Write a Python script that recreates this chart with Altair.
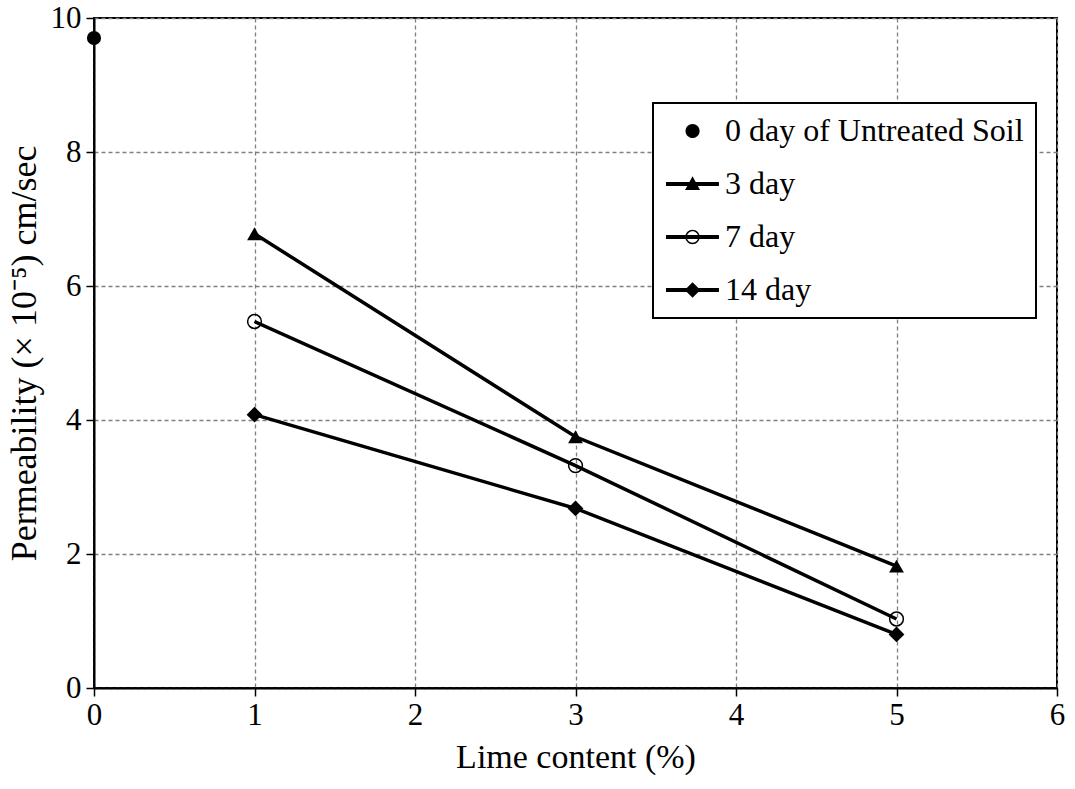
import altair as alt
import pandas as pd

# Permeability (x 10^-5 cm/sec) against lime content (%)
lime_pct = [1, 3, 5]
perm_3day = [6.78, 3.75, 1.82]
perm_7day = [5.47, 3.32, 1.03]
perm_14day = [4.08, 2.68, 0.80]
untreated_lime = [0]
untreated_perm = [9.70]

series_names = ["0 day of Untreated Soil", "3 day", "7 day", "14 day"]
x_ticks = [0, 1, 2, 3, 4, 5, 6]
y_ticks = [0, 2, 4, 6, 8, 10]

rows = []
for x, v in zip(untreated_lime, untreated_perm):
    rows.append({"series": series_names[0], "lime": x, "perm": v})
for name, vals in zip(series_names[1:], [perm_3day, perm_7day, perm_14day]):
    for x, v in zip(lime_pct, vals):
        rows.append({"series": name, "lime": x, "perm": v})
df = pd.DataFrame(rows)

FONT = "Liberation Serif"
FS = 31
LEGEND_FS = 32


# Legend glyphs: a short line with the marker on it (custom SVG paths in
# symbol units; one unit = sqrt(symbolSize) / 2 pixels)
def _circle(cx, r, sweep=1):
    return (f"M{cx - r},0A{r},{r} 0 1,{sweep} {cx + r},0"
            f"A{r},{r} 0 1,{sweep} {cx - r},0Z")


LINE = "M-1,-0.13H2.53V0.13H-1Z"
MX = 0.77
legend_paths = [
    _circle(MX, 0.47),
    LINE + f"M{MX},-0.52L{MX + 0.5},0.4L{MX - 0.5},0.4Z",
    LINE + _circle(MX, 0.48) + _circle(MX, 0.38, sweep=0),
    LINE + f"M{MX - 0.52},0L{MX},-0.52L{MX + 0.52},0L{MX},0.52Z",
]

x_enc = alt.X(
    "lime:Q",
    scale=alt.Scale(domain=[0, 6], nice=False),
    axis=alt.Axis(values=x_ticks, title="Lime content (%)", titlePadding=10,
                  titleFontSize=34, labelPadding=4, labelFlush=False),
)
y_enc = alt.Y(
    "perm:Q",
    scale=alt.Scale(domain=[0, 10], nice=False),
    axis=alt.Axis(values=y_ticks, title="Permeability (× 10⁻⁵) cm/sec",
                  titleFontSize=36, titlePadding=7, labelPadding=5,
                  labelFlush=False),
)

base = alt.Chart(df)

lines = base.transform_filter(
    alt.datum.series != series_names[0]
).mark_line(color="black", strokeWidth=3.5).encode(
    x=x_enc, y=y_enc, detail="series:N"
)

marker_styles = {
    "0 day of Untreated Soil": dict(shape="circle", filled=True, size=200),
    "3 day": dict(shape="triangle-up", filled=True, size=220),
    "7 day": dict(shape="circle", filled=False, size=190),
    "14 day": dict(shape="diamond", filled=True, size=250),
}
markers = [
    base.transform_filter(alt.datum.series == name).mark_point(
        color="black", opacity=1, strokeWidth=1.5, **style
    ).encode(x=x_enc, y=y_enc)
    for name, style in marker_styles.items()
]

legend_layer = base.transform_filter("false").mark_point(
    filled=True, color="black", opacity=1, strokeWidth=0
).encode(
    x=x_enc,
    y=y_enc,
    shape=alt.Shape(
        "series:N",
        scale=alt.Scale(domain=series_names, range=legend_paths),
        legend=alt.Legend(
            title=None,
            orient="none",
            legendX=559,
            legendY=85,
            symbolSize=900,
            symbolFillColor="black",
            symbolStrokeWidth=0,
            symbolOpacity=1,
            labelFont=FONT,
            labelFontSize=LEGEND_FS,
            labelColor="black",
            labelOffset=28,
            labelLimit=0,
            rowPadding=21,
            padding=12,
            strokeColor="black",
            fillColor="white",
        ),
    ),
)

chart = alt.layer(lines, *markers, legend_layer).properties(
    width=963,
    height=670,
    autosize=alt.AutoSizeParams(type="none"),
    padding={"left": 94, "top": 18, "right": 18, "bottom": 101},
    background="white",
).configure_view(
    stroke="black", strokeWidth=2
).configure_axis(
    labelFont=FONT,
    labelFontSize=FS,
    labelColor="black",
    titleFont=FONT,
    titleFontWeight="normal",
    titleColor="black",
    domainColor="black",
    domainWidth=2,
    tickColor="black",
    tickWidth=1.5,
    tickSize=8,
    gridColor="#808080",
    gridDash=[4, 3],
    gridWidth=1.3,
).configure_legend(
    strokeWidth=2
)

chart.save("out.html", embed_options={"renderer": "svg", "actions": False})
